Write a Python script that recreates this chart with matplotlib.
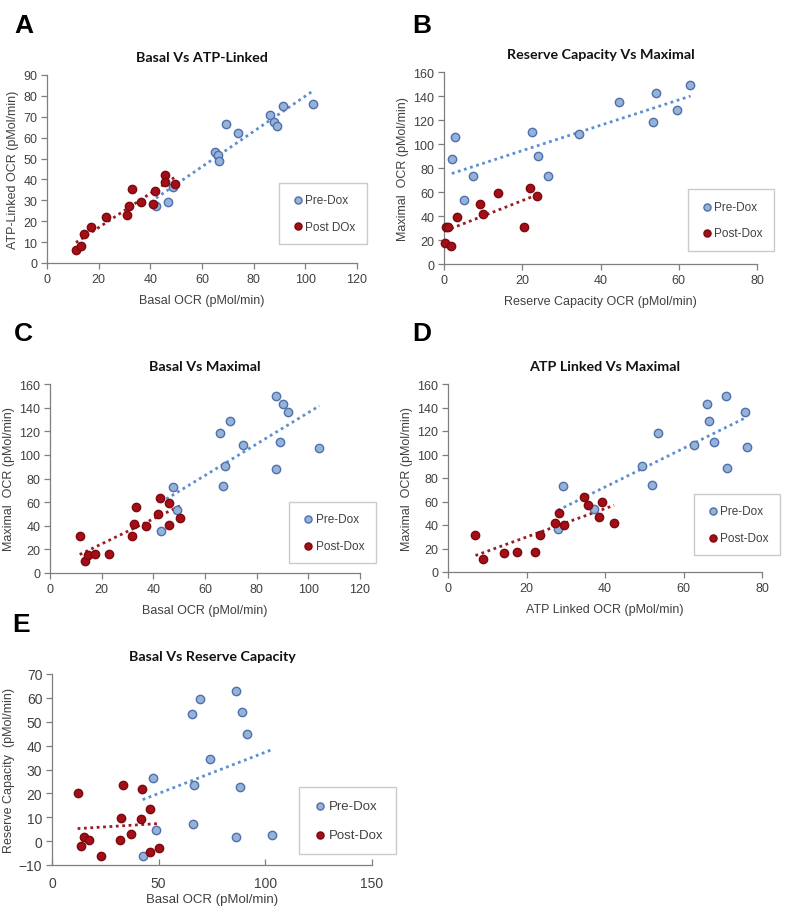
import numpy as np
import matplotlib
matplotlib.use("Agg")
import matplotlib.pyplot as plt

# ---- data ----
# A: Basal vs ATP-linked
a_pre_x = [42.2, 47.0, 48.6, 65.1, 66.0, 66.6, 69.1, 74.0, 86.3, 88.0, 89.0, 91.3, 102.9]
a_pre_y = [27.4, 29.0, 36.5, 53.3, 51.7, 49.0, 66.4, 62.4, 71.0, 67.5, 65.7, 75.3, 76.0]
a_post_x = [11.2, 13.2, 14.5, 16.9, 22.9, 31.1, 31.9, 32.9, 36.4, 41.2, 41.8, 45.5, 45.5, 49.6]
a_post_y = [6.4, 8.3, 13.7, 17.4, 21.9, 23.1, 27.1, 35.4, 29.2, 28.2, 34.3, 42.3, 38.6, 38.0]

# B: Reserve capacity vs maximal
b_pre_x = [2.0, 2.8, 5.0, 7.3, 22.5, 23.9, 26.5, 34.6, 44.7, 53.4, 54.3, 59.5, 63.0]
b_pre_y = [87.9, 106.2, 53.0, 73.2, 110.1, 90.1, 73.2, 108.2, 135.3, 118.1, 142.8, 128.1, 149.2]
b_post_x = [0.3, 0.5, 1.1, 1.8, 3.2, 9.1, 10.0, 13.7, 20.4, 21.9, 23.7]
b_post_y = [17.2, 31.1, 31.1, 15.3, 39.1, 50.2, 41.3, 58.8, 31.1, 63.2, 56.3]

# C: Basal vs maximal
c_pre_x = [42.9, 47.5, 49.1, 65.9, 67.0, 67.6, 69.8, 74.8, 87.3, 87.3, 89.1, 90.1, 92.3, 104.3]
c_pre_y = [35.8, 73.1, 53.3, 118.5, 73.4, 90.6, 128.4, 108.6, 88.0, 149.5, 110.9, 143.1, 136.3, 106.1]
c_post_x = [11.5, 13.5, 14.8, 17.5, 22.8, 31.7, 32.4, 33.3, 37.0, 41.8, 42.4, 46.0, 46.2, 50.5]
c_post_y = [31.0, 9.9, 15.5, 16.4, 15.8, 31.0, 41.5, 56.2, 39.5, 49.9, 63.2, 59.0, 40.6, 46.3]

# D: ATP linked vs maximal
d_pre_x = [28.0, 29.4, 37.2, 49.4, 51.9, 53.6, 62.6, 66.0, 66.5, 67.7, 70.9, 71.2, 75.7, 76.1]
d_pre_y = [36.2, 73.6, 53.2, 90.6, 73.9, 118.7, 108.5, 143.0, 128.6, 110.7, 149.5, 88.6, 136.2, 106.5]
d_post_x = [7.0, 9.0, 14.2, 17.6, 22.2, 23.5, 27.3, 28.4, 29.6, 34.7, 35.7, 38.4, 39.2, 42.3]
d_post_y = [31.7, 10.8, 16.1, 17.3, 16.7, 31.7, 41.9, 50.4, 39.6, 63.7, 56.9, 47.0, 59.5, 41.3]

# E: Basal vs reserve capacity
e_pre_x = [42.5, 47.2, 48.8, 65.5, 66.7, 66.3, 69.4, 74.2, 86.4, 86.1, 88.3, 89.1, 91.4, 103.1]
e_pre_y = [-6.2, 26.3, 4.8, 53.4, 23.6, 7.2, 59.5, 34.4, 63.0, 1.9, 22.5, 54.1, 44.7, 2.7]
e_post_x = [12.0, 13.8, 14.8, 17.5, 23.0, 31.7, 32.2, 33.1, 36.9, 41.6, 42.0, 45.8, 45.9, 50.2]
e_post_y = [20.3, -2.2, 1.9, 0.3, -6.1, 0.6, 9.8, 23.5, 3.1, 9.3, 21.7, 13.5, -4.4, -2.7]

PRE_FILL, PRE_EDGE, PRE_LINE = "#95b3d7", "#4f6fae", "#5b8fd0"
POST_FILL, POST_EDGE, POST_LINE = "#a50e16", "#7a0a10", "#9b1c1f"
TXT = "#404040"
SANS = ["Liberation Sans", "DejaVu Sans"]
TITLE_FONT = ["Lato", "DejaVu Sans"]

fig = plt.figure(figsize=(7.89, 9.12), dpi=100)


def px_axes(l, r, t, b):
    W, H = 789, 912
    return fig.add_axes([l / W, 1 - b / H, (r - l) / W, (b - t) / H])


def panel(ax, pre, post, title, xlabel, ylabel, xlim, xticks, ylim, yticks,
          labels, leg_center, big=False):
    for (x, y), line in ((pre, PRE_LINE), (post, POST_LINE)):
        x = np.array(x)
        y = np.array(y)
        k, c = np.polyfit(x, y, 1)
        xs = np.array([x.min(), x.max()])
        ax.plot(xs, k * xs + c, ls=(0, (1, 1.3)), color=line, lw=2, zorder=2)
    h1 = ax.scatter(pre[0], pre[1], s=36, c=PRE_FILL, edgecolors=PRE_EDGE,
                    linewidths=1.0, zorder=3, clip_on=False)
    h2 = ax.scatter(post[0], post[1], s=36, c=POST_FILL, edgecolors=POST_EDGE,
                    linewidths=1.0, zorder=3, clip_on=False)
    ax.set_xlim(*xlim)
    ax.set_ylim(*ylim)
    ax.set_xticks(xticks)
    ax.set_yticks(yticks)
    for s in ("top", "right"):
        ax.spines[s].set_visible(False)
    for s in ("left", "bottom"):
        ax.spines[s].set_color("#7f7f7f")
        ax.spines[s].set_linewidth(0.9)
    fs = 10 if big else 9
    ax.tick_params(axis="both", colors="#7f7f7f", labelcolor=TXT,
                   labelsize=fs, length=4, width=0.9, pad=3)
    if big:
        ax.tick_params(axis="x", direction="in", pad=8)
    for lab in ax.get_xticklabels() + ax.get_yticklabels():
        lab.set_family(SANS)
    ax.set_title(title, fontsize=10.3, fontweight="bold", family=TITLE_FONT,
                 color="#111111", pad=10)
    ax.set_xlabel(xlabel, fontsize=9.5 if big else 9, color=TXT,
                  family=SANS, labelpad=2 if big else 7)
    ax.set_ylabel(ylabel, fontsize=9, color=TXT,
                  family=SANS, labelpad=3)
    leg = ax.legend([h1, h2], labels, loc="center",
                    bbox_to_anchor=leg_center, frameon=True, fancybox=False,
                    handletextpad=0.0, handlelength=1.3, labelspacing=1.25,
                    borderpad=0.95, markerscale=0.85,
                    prop={"family": SANS, "size": 9.5 if big else 8.5})
    leg.get_frame().set_edgecolor("#bfbfbf")
    leg.get_frame().set_linewidth(1.0)
    for t in leg.get_texts():
        t.set_color(TXT)


ax_a = px_axes(47, 357, 76, 264)
panel(ax_a, (a_pre_x, a_pre_y), (a_post_x, a_post_y), "Basal Vs ATP-Linked",
      "Basal OCR (pMol/min)", "ATP-Linked OCR (pMol/min)",
      (0, 120), range(0, 121, 20), (0, 90), range(0, 91, 10),
      ["Pre-Dox", "Post DOx"], (0.89, 0.265))

ax_b = px_axes(444, 757, 73, 265)
panel(ax_b, (b_pre_x, b_pre_y), (b_post_x, b_post_y), "Reserve Capacity Vs Maximal",
      "Reserve Capacity OCR (pMol/min)", "Maximal  OCR (pMol/min)",
      (0, 80), range(0, 81, 20), (0, 160), range(0, 161, 20),
      ["Pre-Dox", "Post-Dox"], (0.917, 0.229))

ax_c = px_axes(50, 360, 385, 574)
panel(ax_c, (c_pre_x, c_pre_y), (c_post_x, c_post_y), "Basal Vs Maximal",
      "Basal OCR (pMol/min)", "Maximal  OCR (pMol/min)",
      (0, 120), range(0, 121, 20), (0, 160), range(0, 161, 20),
      ["Pre-Dox", "Post-Dox"], (0.911, 0.214))

ax_d = px_axes(448, 762, 385, 573)
panel(ax_d, (d_pre_x, d_pre_y), (d_post_x, d_post_y), "ATP Linked Vs Maximal",
      "ATP Linked OCR (pMol/min)", "Maximal  OCR (pMol/min)",
      (0, 80), range(0, 81, 20), (0, 160), range(0, 161, 20),
      ["Pre-Dox", "Post-Dox"], (0.92, 0.253))

ax_e = px_axes(52, 372, 675, 866)
panel(ax_e, (e_pre_x, e_pre_y), (e_post_x, e_post_y), "Basal Vs Reserve Capacity",
      "Basal OCR (pMol/min)", "Reserve Capacity  (pMol/min)",
      (0, 150), range(0, 151, 50), (-10, 70), range(-10, 71, 10),
      ["Pre-Dox", "Post-Dox"], (0.923, 0.233), big=True)

# panel letters
for letter, x, y in (("A", 14, 26), ("B", 412, 26), ("C", 14, 334),
                     ("D", 412, 334), ("E", 12, 625)):
    fig.text(x / 789, 1 - y / 912, letter, fontsize=19, fontweight="bold",
             family=SANS, va="center", ha="left", color="black")

fig.savefig("out.png", dpi=100)
